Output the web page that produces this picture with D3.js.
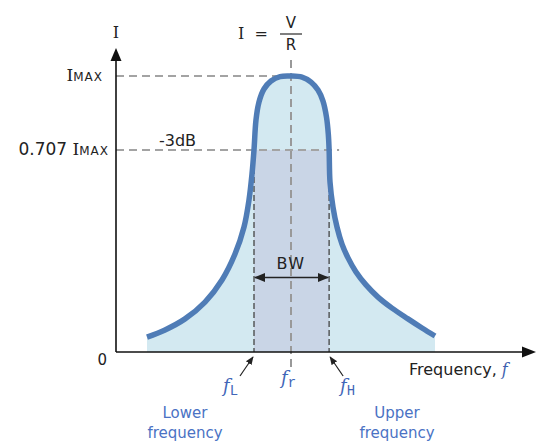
<!DOCTYPE html>
<html>
<head>
<meta charset="utf-8">
<script src="https://cdn.jsdelivr.net/npm/d3@7"></script>
<style>
  body { margin: 0; background: #fff; }
  svg { display: block; font-family: "DejaVu Sans", sans-serif; }
</style>
</head>
<body>
<div id="chart"></div>
<script>
// resonance curve (I as a fraction of IMAX)
const freq = [11.08, 15.95, 21.35, 26.76, 31.35, 34.86, 37.3, 38.65, 39.46, 40.0, 40.54, 41.35, 42.7, 44.59, 47.03, 50.0, 52.97, 55.41, 57.3, 58.65, 59.59, 60.08, 60.3, 60.54, 61.35, 62.43, 63.78, 65.41, 67.57, 70.27, 73.51, 77.3, 81.62, 85.41, 88.92];
const current = [0.054, 0.08, 0.12, 0.181, 0.261, 0.355, 0.453, 0.551, 0.645, 0.732, 0.841, 0.906, 0.953, 0.982, 0.998, 1.0, 0.996, 0.978, 0.949, 0.909, 0.851, 0.79, 0.732, 0.616, 0.525, 0.453, 0.391, 0.341, 0.29, 0.243, 0.199, 0.159, 0.12, 0.087, 0.058];

const fL = 40, fR = 50, fH = 60.3;
const iMax = 1, iCut = 0.732;
const bwLevel = 0.27;

const width = 536, height = 443;
const ox = 116; // y axis position

const svg = d3.select("#chart").append("svg")
  .attr("width", width)
  .attr("height", height);

const x = d3.scaleLinear().domain([0, 120]).range([106, 550]);
const y = d3.scaleLinear().domain([0, 1]).range([352, 76]);

const pts = freq.map((f, i) => ({ f: f, i: current[i] }));

const defs = svg.append("defs");
defs.append("marker")
  .attr("id", "arr")
  .attr("viewBox", "0 0 10 10")
  .attr("refX", 9).attr("refY", 5)
  .attr("markerWidth", 7).attr("markerHeight", 7)
  .attr("orient", "auto-start-reverse")
  .append("path")
  .attr("d", "M0,1 L10,5 L0,9 z")
  .attr("fill", "#222");

const curve = d3.curveCatmullRom.alpha(0.5);

// area under curve
const area = d3.area()
  .x(d => x(d.f))
  .y0(y(0))
  .y1(d => y(d.i))
  .curve(curve);

svg.append("path")
  .datum(pts)
  .attr("fill", "#d3e9f1")
  .attr("d", area);

// bandwidth block
svg.append("rect")
  .attr("x", x(fL))
  .attr("y", y(iCut))
  .attr("width", x(fH) - x(fL))
  .attr("height", y(0) - y(iCut))
  .attr("fill", "#c9d5e6");

// grey guide lines
const grey = "#a3a3a3";
svg.append("line")
  .attr("x1", ox).attr("x2", x(48.5))
  .attr("y1", y(iMax)).attr("y2", y(iMax))
  .attr("stroke", grey).attr("stroke-width", 2).attr("stroke-dasharray", "8,5");
svg.append("line")
  .attr("x1", ox).attr("x2", x(63))
  .attr("y1", y(iCut)).attr("y2", y(iCut))
  .attr("stroke", grey).attr("stroke-width", 2).attr("stroke-dasharray", "8,5");
svg.append("line")
  .attr("x1", x(fR)).attr("x2", x(fR))
  .attr("y1", 60).attr("y2", 370)
  .attr("stroke", "#999").attr("stroke-width", 2).attr("stroke-dasharray", "8,5");

// fL / fH markers
[fL, fH].forEach(f => {
  svg.append("line")
    .attr("x1", x(f)).attr("x2", x(f))
    .attr("y1", y(iCut)).attr("y2", y(0))
    .attr("stroke", "#444").attr("stroke-width", 1.3).attr("stroke-dasharray", "6,3");
});

// curve
const line = d3.line()
  .x(d => x(d.f))
  .y(d => y(d.i))
  .curve(curve);

svg.append("path")
  .datum(pts)
  .attr("fill", "none")
  .attr("stroke", "#4f7cb6")
  .attr("stroke-width", 5.5)
  .attr("stroke-linecap", "butt")
  .attr("d", line);

// axes
svg.append("line")
  .attr("x1", ox).attr("x2", ox)
  .attr("y1", y(0)).attr("y2", 58)
  .attr("stroke", "#111").attr("stroke-width", 1.6);
svg.append("path")
  .attr("d", `M${ox},48 L${ox - 5.5},61 L${ox + 5.5},61 z`)
  .attr("fill", "#111");
svg.append("line")
  .attr("x1", ox).attr("x2", 525)
  .attr("y1", y(0)).attr("y2", y(0))
  .attr("stroke", "#111").attr("stroke-width", 1.6);
svg.append("path")
  .attr("d", `M536,${y(0)} L522,${y(0) - 5.5} L522,${y(0) + 5.5} z`)
  .attr("fill", "#111");

// BW arrow
svg.append("line")
  .attr("x1", x(fL) + 1).attr("x2", x(fH) - 1)
  .attr("y1", y(bwLevel)).attr("y2", y(bwLevel))
  .attr("stroke", "#222").attr("stroke-width", 1.6)
  .attr("marker-start", "url(#arr)")
  .attr("marker-end", "url(#arr)");
svg.append("text")
  .attr("x", x(fR)).attr("y", y(bwLevel) - 8)
  .attr("text-anchor", "middle")
  .attr("font-size", 16).attr("fill", "#222")
  .attr("letter-spacing", 1.5)
  .text("BW");

// pointer arrows to fL, fH
svg.append("line")
  .attr("x1", x(fL) - 14).attr("x2", x(fL) - 1)
  .attr("y1", 376).attr("y2", 357)
  .attr("stroke", "#222").attr("stroke-width", 1.2)
  .attr("marker-end", "url(#arr)");
svg.append("line")
  .attr("x1", x(fH) + 14).attr("x2", x(fH) + 1)
  .attr("y1", 376).attr("y2", 357)
  .attr("stroke", "#222").attr("stroke-width", 1.2)
  .attr("marker-end", "url(#arr)");

// text labels
const dark = "#222";
const serif = "'DejaVu Serif', serif";
svg.append("text")
  .attr("x", ox).attr("y", 38)
  .attr("text-anchor", "middle")
  .attr("font-family", serif)
  .attr("font-size", 16).attr("fill", dark)
  .text("I");

const imax = svg.append("text")
  .attr("x", 103).attr("y", 81)
  .attr("text-anchor", "end")
  .attr("font-size", 17).attr("fill", dark);
imax.append("tspan").attr("font-family", serif).text("I");
imax.append("tspan").attr("font-size", 12).attr("letter-spacing", 1).text("MAX");

const i707 = svg.append("text")
  .attr("x", 109).attr("y", 155)
  .attr("text-anchor", "end")
  .attr("font-size", 17).attr("fill", dark);
i707.append("tspan").text("0.707 ");
i707.append("tspan").attr("font-family", serif).text("I");
i707.append("tspan").attr("font-size", 12).attr("letter-spacing", 1).text("MAX");

svg.append("text")
  .attr("x", 159).attr("y", 146)
  .attr("font-size", 16).attr("fill", dark)
  .text("-3dB");

svg.append("text")
  .attr("x", 107).attr("y", 365)
  .attr("text-anchor", "end")
  .attr("font-size", 15).attr("fill", dark)
  .text("0");

// I = V / R
svg.append("text")
  .attr("x", 238).attr("y", 39)
  .attr("font-size", 16).attr("fill", dark)
  .attr("xml:space", "preserve")
  .html("<tspan font-family=\"'DejaVu Serif', serif\">I</tspan>  =");
svg.append("text")
  .attr("x", 291).attr("y", 28)
  .attr("text-anchor", "middle")
  .attr("font-size", 15).attr("fill", dark)
  .text("V");
svg.append("line")
  .attr("x1", 280).attr("x2", 302)
  .attr("y1", 34).attr("y2", 34)
  .attr("stroke", "#555").attr("stroke-width", 1.5);
svg.append("text")
  .attr("x", 291).attr("y", 50)
  .attr("text-anchor", "middle")
  .attr("font-size", 15).attr("fill", dark)
  .text("R");

// frequency axis label
const fq = svg.append("text")
  .attr("x", 409).attr("y", 375)
  .attr("font-size", 16).attr("fill", dark);
fq.append("tspan").text("Frequency, ");
fq.append("tspan")
  .attr("font-family", serif)
  .attr("font-style", "italic")
  .attr("fill", "#3d5fae")
  .text("f");

// f labels
const blue = "#4166b8";
function fLabel(px, py, sub) {
  const t = svg.append("text")
    .attr("x", px).attr("y", py)
    .attr("fill", blue);
  t.append("tspan")
    .attr("font-family", serif)
    .attr("font-style", "italic")
    .attr("font-size", 18)
    .text("f");
  t.append("tspan")
    .attr("font-family", "'Liberation Mono', monospace")
    .attr("font-size", 14)
    .attr("dy", 3)
    .text(sub);
}
fLabel(x(fL) - 31, 392, "L");
fLabel(x(fR) - 10, 384, "r");
fLabel(x(fH) + 11, 392, "H");

// band edge descriptions
const light = "#4a72c4";
[["Lower", "frequency", 185], ["Upper", "frequency", 397]].forEach(d => {
  const t = svg.append("text")
    .attr("text-anchor", "middle")
    .attr("font-size", 15).attr("fill", light);
  t.append("tspan").attr("x", d[2]).attr("y", 418).text(d[0]);
  t.append("tspan").attr("x", d[2]).attr("y", 438).text(d[1]);
});
</script>
</body>
</html>
